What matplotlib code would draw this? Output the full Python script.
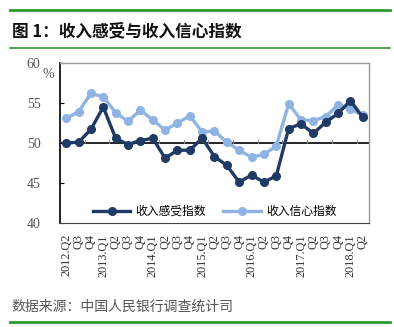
import matplotlib.pyplot as plt
from matplotlib.lines import Line2D

plt.rcParams['font.family'] = ['Liberation Serif', 'Noto Sans CJK SC']

quarters = ["2012.Q2", "Q3", "Q4", "2013.Q1", "Q2", "Q3", "Q4",
            "2014.Q1", "Q2", "Q3", "Q4", "2015.Q1", "Q2", "Q3", "Q4",
            "2016.Q1", "Q2", "Q3", "Q4", "2017.Q1", "Q2", "Q3", "Q4",
            "2018.Q1", "Q2"]
income_feel = [50.0, 50.1, 51.7, 54.5, 50.6, 49.8, 50.3, 50.6, 48.1, 49.1,
               49.1, 50.6, 48.3, 47.2, 45.1, 46.0, 45.1, 45.9, 51.8, 52.4,
               51.2, 52.6, 53.7, 55.3, 53.2]
income_conf = [53.1, 53.9, 56.2, 55.8, 53.8, 52.7, 54.1, 52.9, 51.6, 52.5,
               53.4, 51.4, 51.5, 50.1, 49.1, 48.2, 48.6, 49.6, 54.9, 52.9,
               52.8, 53.3, 54.8, 54.2, 53.5]

dark = "#1f3a64"
light = "#8fb4e3"
green = "#2e9a2e"

fig = plt.figure(figsize=(3.94, 3.27), dpi=100)
ax = fig.add_axes([0.1523, 0.318, 0.7842, 0.4893])

x = list(range(len(quarters)))
ax.plot(x, income_conf, color=light, lw=2.4, marker="o", ms=5.5, zorder=3)
ax.plot(x, income_feel, color=dark, lw=2.4, marker="o", ms=5.5, zorder=4)

ax.set_xlim(-0.5, len(quarters) - 0.5)
ax.set_ylim(40, 60)
ax.set_yticks([40, 45, 50, 55, 60])
ax.tick_params(axis="y", direction="in", length=3, labelsize=10,
               labelcolor="#555555", pad=14)
ax.tick_params(axis="x", length=0, labelsize=8.8, pad=8)
ax.set_xticks(x)
ax.set_xticklabels(quarters, rotation=90, va="top", ha="center", color="#333333")

# category axis crosses at 50 with small upward ticks
ax.axhline(50, color="black", lw=1.2, zorder=2)
for b in range(0, len(quarters), 2):
    ax.plot([b - 0.5, b - 0.5], [50, 50.35], color="#888888", lw=0.8, zorder=2)

for side in ["top", "right"]:
    ax.spines[side].set_color("#999999")
    ax.spines[side].set_linewidth(1)
ax.spines["left"].set_color("black")
ax.spines["bottom"].set_color("#444444")
ax.spines["left"].set_linewidth(1.2)

ax.text(-0.02, 0.93, "%", transform=ax.transAxes, fontsize=10,
        color="#555555", ha="right", va="center")

handles = [Line2D([], [], color=dark, lw=2.4, marker="o", ms=5.5),
           Line2D([], [], color=light, lw=2.4, marker="o", ms=5.5)]
ax.legend(handles, ["收入感受指数", "收入信心指数"], loc="lower center",
          bbox_to_anchor=(0.5, -0.035), ncol=2, frameon=False,
          handlelength=3.2, columnspacing=1.5, handletextpad=0.4,
          prop={"family": ["Noto Sans CJK SC"], "size": 8.5})

fig.add_artist(Line2D([0.025, 0.99], [0.968, 0.968], color=green, lw=2))
fig.add_artist(Line2D([0.025, 0.99], [0.853, 0.853], color=green, lw=1.2))
fig.add_artist(Line2D([0.025, 0.99], [0.015, 0.015], color=green, lw=2))
fig.text(0.03, 0.905, "图 1：收入感受与收入信心指数", fontsize=12, fontweight="bold",
         family=["Noto Sans CJK SC"], va="center", color="#111111")
fig.text(0.03, 0.062, "数据来源：中国人民银行调查统计司", fontsize=10,
         family=["Noto Sans CJK SC"], va="center", color="#555555")

fig.savefig("out.png", dpi=100)
